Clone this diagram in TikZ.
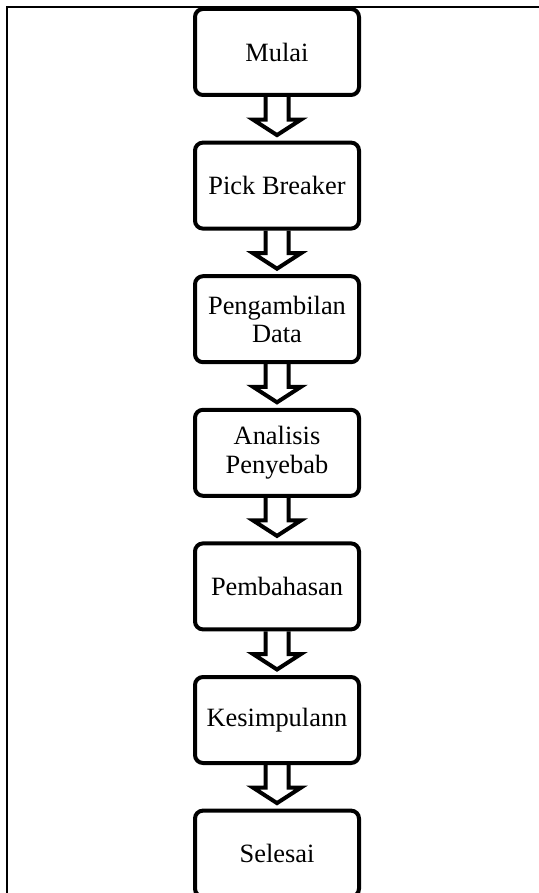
\documentclass[tikz,border=0pt]{standalone}
\usepackage{fontspec}
\setmainfont{Liberation Serif}
\usetikzlibrary{positioning}
\tikzstyle{process} = [rectangle, rounded corners=8pt, minimum width=164pt, minimum height=86pt, text centered, align=center, draw=black, fill=white, line width=4pt, font=\fontsize{26.4}{28.3}\selectfont]
\tikzstyle{blockarrow} = [line width=4pt, line join=miter]
\newcommand{\flowarrow}[2]{%
  \draw [blockarrow] ([xshift=-11.5pt]#1.south) -- ([xshift=-11.5pt,yshift=21pt]#2.north) -- ([xshift=-24pt,yshift=21pt]#2.north) -- ([yshift=5.5pt]#2.north) -- ([xshift=24pt,yshift=21pt]#2.north) -- ([xshift=11.5pt,yshift=21pt]#2.north) -- ([xshift=11.5pt]#1.south);}
\begin{document}
\begin{tikzpicture}[x=1pt, y=1pt, node distance=43.6pt]
\useasboundingbox (0,0) rectangle (538,-893);

% Frame
\draw [line width=1.5pt] (7,-900) |- (545,-7);

% Steps
\node (mulai) [process] at (277,-52) {Mulai};

\node (pick) [process, below=of mulai] {Pick Breaker};

\node (ambil-data) [process, below=of pick] {Pengambilan\\Data};

\node (analisis) [process, below=of ambil-data] {Analisis\\Penyebab};

\node (bahas) [process, below=of analisis] {Pembahasan};

\node (simpul) [process, below=of bahas] {Kesimpulann};

\node (selesai) [process, below=of simpul] {Selesai};

% Arrows
\flowarrow{mulai}{pick}
\flowarrow{pick}{ambil-data}
\flowarrow{ambil-data}{analisis}
\flowarrow{analisis}{bahas}
\flowarrow{bahas}{simpul}
\flowarrow{simpul}{selesai}

\end{tikzpicture}
\end{document}
